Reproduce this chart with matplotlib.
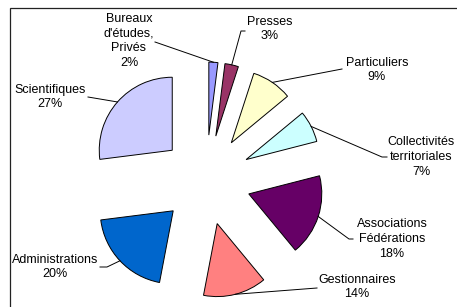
import matplotlib
matplotlib.use('Agg')
import matplotlib.pyplot as plt
import numpy as np
from matplotlib.patches import Rectangle

plt.rcParams['font.family'] = ['Liberation Sans', 'DejaVu Sans']

categories = ["Bureaux\nd'études,\nPrivés", "Presses", "Particuliers",
              "Collectivités\nterritoriales", "Associations\nFédérations",
              "Gestionnaires", "Administrations", "Scientifiques"]
values = [2, 3, 9, 7, 18, 14, 20, 27]
colors = ['#9999FF', '#993366', '#FFFFCC', '#CCFFFF',
          '#660066', '#FF8080', '#0066CC', '#CCCCFF']

W, H = 457, 307
# label layout in pixels (y down): text centre, then leader bend points
label_pos = [(129, 41), (270, 29), (377, 70), (421, 157),
             (392, 239), (357, 287), (55, 267), (50, 97)]
leader_pts = [[(155, 42)], [(241, 31), (245, 31)], [(342, 69)],
              [(382, 157), (387, 157)], [(349, 239), (353, 239)],
              [(317, 288)], [(107, 267), (100, 267)], [(88, 97)]]

fig = plt.figure(figsize=(W / 100, H / 100), dpi=100)
ax = fig.add_axes([0, 0, 1, 1])

radius = 73
# explode is in data units here (pixels)
wedges, _ = ax.pie(values, colors=colors, startangle=90, counterclock=False,
                   radius=radius, center=(206, H - 180),
                   explode=[45] * len(values),
                   wedgeprops=dict(edgecolor='black', linewidth=0.7))

for w, lab, v, (tx, ty), pts in zip(wedges, categories, values, label_pos, leader_pts):
    ang = np.deg2rad((w.theta1 + w.theta2) / 2)
    sx = w.center[0] + w.r * np.cos(ang)
    sy = w.center[1] + w.r * np.sin(ang)
    xs = [sx] + [p[0] for p in pts]
    ys = [sy] + [H - p[1] for p in pts]
    ax.plot(xs, ys, color='black', lw=0.7)
    ax.text(tx, H - ty, lab + "\n" + f"{v}%", ha='center', va='center',
            multialignment='center', fontsize=9, linespacing=1.3, color='black')

ax.add_patch(Rectangle((9.5, -10), 460, H - 7 + 10 - 0.5, fill=False,
                       edgecolor='#222222', lw=0.9))

ax.set_xlim(0, W)
ax.set_ylim(0, H)
ax.set_aspect('equal')
ax.axis('off')

fig.savefig('out.png', dpi=100)
